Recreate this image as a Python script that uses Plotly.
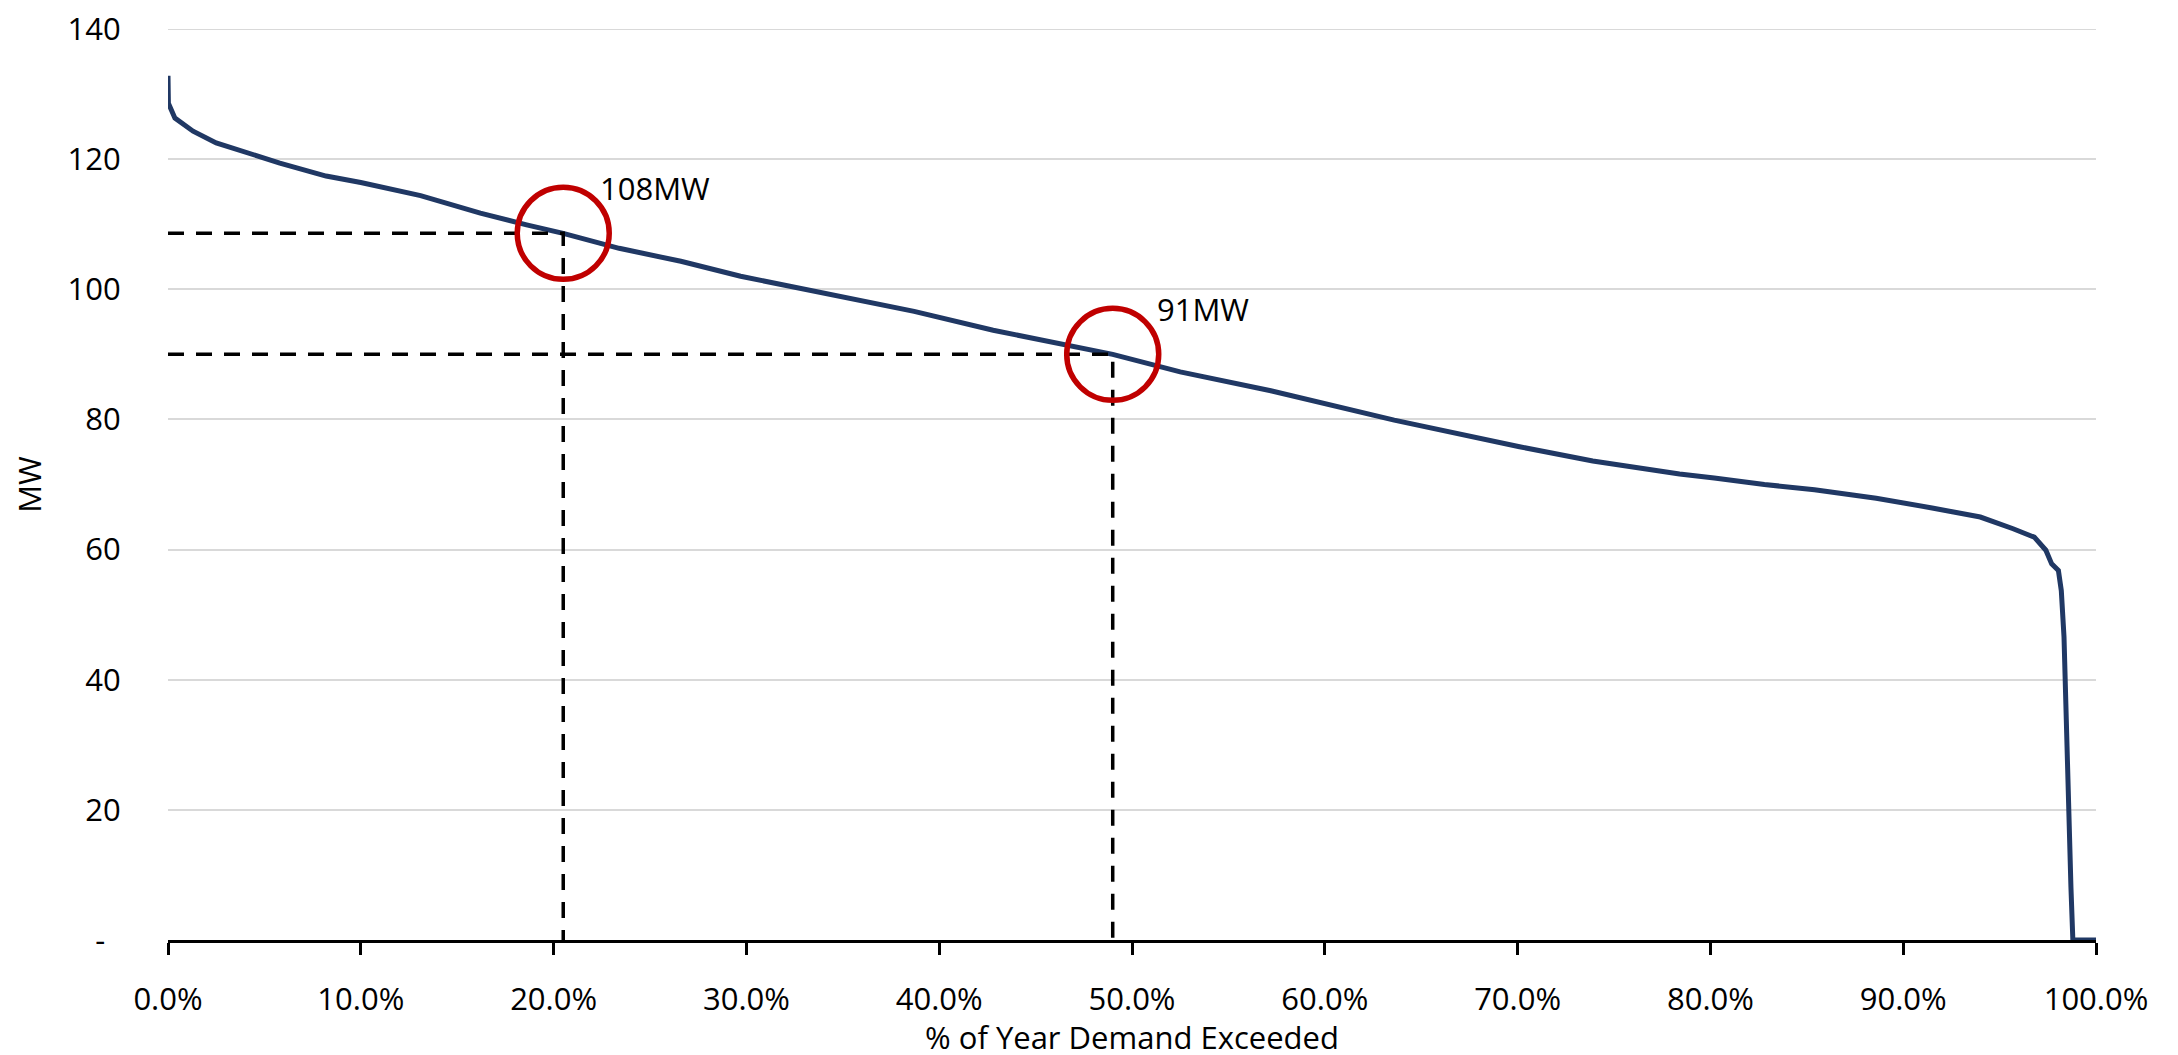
import plotly.graph_objects as go

# ---- data ----
pct_exceeded = [0.0, 0.02, 0.36, 1.3, 2.5, 4.1, 5.8, 8.2, 10.0, 13.1, 16.2, 18.6,
                20.5, 23.4, 26.6, 29.7, 34.7, 38.7, 42.8, 46.3, 49.0, 52.5, 57.2,
                63.6, 70.1, 73.9, 78.4, 80.2, 82.8, 85.4, 88.6, 91.5, 94.0, 95.7,
                96.8, 97.4, 97.7, 98.05, 98.2, 98.34, 98.44, 98.5, 98.6, 98.7,
                98.8, 100.0]
demand_mw = [132.8, 128.6, 126.3, 124.3, 122.5, 120.9, 119.4, 117.4, 116.4, 114.4,
             111.7, 109.9, 108.6, 106.3, 104.3, 102.0, 98.9, 96.6, 93.7, 91.7,
             90.0, 87.3, 84.4, 79.9, 75.8, 73.6, 71.6, 71.0, 70.0, 69.2, 67.9,
             66.4, 65.0, 63.2, 61.9, 59.9, 57.8, 56.8, 53.7, 46.6, 36.3, 23.5,
             13.2, 8.1, 0.0, 0.0]

marker_pct = [20.5, 49.0]
marker_mw = [108.6, 90.0]
marker_labels = ["108MW", "91MW"]

x_ticks = [0, 10, 20, 30, 40, 50, 60, 70, 80, 90, 100]
x_tick_labels = ["0.0%", "10.0%", "20.0%", "30.0%", "40.0%", "50.0%",
                 "60.0%", "70.0%", "80.0%", "90.0%", "100.0%"]
y_ticks = [0, 20, 40, 60, 80, 100, 120, 140]
y_tick_labels = ["-\u2002", "20", "40", "60", "80", "100", "120", "140"]

# ---- styles ----
FONT = "'Open Sans', Lato, sans-serif"
FS = 31
GRID = "#D9D9D9"
label_shift = [(35, 45), (42, 45)]

fig = go.Figure()

# top gridline (plotly drops gridlines that sit exactly on the plot edge)
fig.add_hline(y=y_ticks[-1], line=dict(color=GRID, width=2), layer="below")

fig.add_trace(go.Scatter(
    x=pct_exceeded, y=demand_mw, mode="lines",
    line=dict(color="#203864", width=5), hoverinfo="skip", cliponaxis=False))

for px, py in zip(marker_pct, marker_mw):
    fig.add_trace(go.Scatter(
        x=[0, px, px], y=[py, py, 0], mode="lines",
        line=dict(color="black", width=3.5, dash="16px,12px"), hoverinfo="skip"))

for px, py in zip(marker_pct, marker_mw):
    fig.add_shape(type="circle", xref="x", yref="y", xsizemode="pixel", ysizemode="pixel",
                  xanchor=px, yanchor=py, x0=-46, x1=46, y0=-46, y1=46,
                  line=dict(color="#C00000", width=5.5))

for px, py, txt, (dx, dy) in zip(marker_pct, marker_mw, marker_labels, label_shift):
    fig.add_annotation(x=px, y=py, text=txt, showarrow=False, xanchor="left",
                       yanchor="middle", xshift=dx, yshift=dy,
                       font=dict(family=FONT, size=FS, color="black"))

fig.update_layout(
    width=2170, height=1050,
    margin=dict(l=160, r=82, t=21, b=118),
    paper_bgcolor="white", plot_bgcolor="white",
    showlegend=False,
    font=dict(family=FONT, size=FS, color="black"),
)

fig.update_xaxes(
    range=[0, 100], tickvals=x_ticks, ticktext=x_tick_labels,
    showgrid=False, zeroline=False, automargin=False,
    showline=True, linecolor="black", linewidth=3,
    ticks="outside", ticklen=12, tickwidth=3, tickcolor="black",
    ticklabelstandoff=18, ticklabeloverflow="allow",
    title=dict(text="% of Year Demand Exceeded", font=dict(family=FONT, size=FS), standoff=12),
    tickfont=dict(family=FONT, size=FS, color="black"),
)

fig.update_yaxes(
    range=[0, 140], tickvals=y_ticks, ticktext=y_tick_labels,
    showgrid=True, gridcolor=GRID, gridwidth=2,
    zeroline=False, showline=False, automargin=False,
    ticks="outside", ticklen=40, tickcolor="rgba(0,0,0,0)",
    ticklabeloverflow="allow",
    title=dict(text="MW", font=dict(family=FONT, size=FS), standoff=16),
    tickfont=dict(family=FONT, size=FS, color="black"),
)

fig.write_html("out.html")
